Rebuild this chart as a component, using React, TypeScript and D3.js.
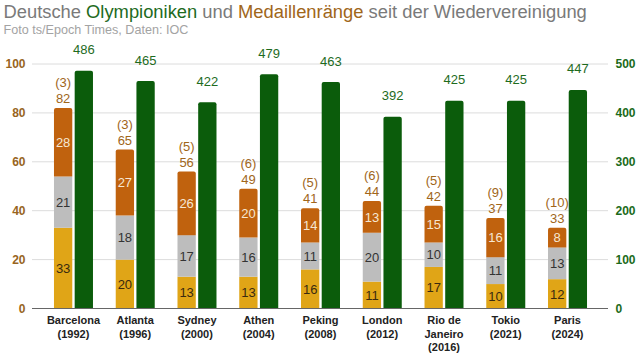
import React from "react";
import * as d3 from "d3";

const games = ["Barcelona (1992)", "Atlanta (1996)", "Sydney (2000)", "Athen (2004)", "Peking (2008)", "London (2012)", "Rio de Janeiro (2016)", "Tokio (2021)", "Paris (2024)"];
const labelLines = [["Barcelona", "(1992)"], ["Atlanta", "(1996)"], ["Sydney", "(2000)"], ["Athen", "(2004)"], ["Peking", "(2008)"], ["London", "(2012)"], ["Rio de", "Janeiro", "(2016)"], ["Tokio", "(2021)"], ["Paris", "(2024)"]];
const gold = [33, 20, 13, 13, 16, 11, 17, 10, 12];
const silver = [21, 18, 17, 16, 11, 20, 10, 11, 13];
const bronze = [28, 27, 26, 20, 14, 13, 15, 16, 8];
const rank = [3, 3, 5, 6, 5, 6, 5, 9, 10];
const athletes = [486, 465, 422, 479, 463, 392, 425, 425, 447];
const leftTicks = [0, 20, 40, 60, 80, 100];
const rightTicks = [0, 100, 200, 300, 400, 500];

const W = 640, H = 355;
const FONT = "'Liberation Sans', Arial, sans-serif";

export default function App() {
  const x = d3.scaleBand<string>().domain(games).range([42.6, 598.4]).paddingInner(0).paddingOuter(0);
  const yL = d3.scaleLinear().domain([0, 100]).range([308.5, 64]);
  const yR = d3.scaleLinear().domain([0, 500]).range([308.5, 64]);
  const bw = 18.3;
  const gap = 2.4;
  const stack = d3.stack<number>().keys(["g", "s", "b"]).value((i, k) => (k === "g" ? gold[i] : k === "s" ? silver[i] : bronze[i]));
  const series = stack(games.map((_, i) => i) as any);
  const colors = ["#E0A517", "#BDBDBD", "#C0620E"];
  const textColors = ["#3a2a10", "#333333", "#F6E7D2"];

  return (
    <svg width={W} height={H} style={{ position: "absolute", left: 0, top: 0, background: "#fff" }} fontFamily={FONT}>
      <text x={3.5} y={18.3} fontSize={18.35} fill="#7a7a7a">
        Deutsche <tspan fill="#1E6B1E">Olympioniken</tspan> und <tspan fill="#A0661A">Medaillenränge</tspan> seit der Wiedervereinigung
      </text>
      <text x={3.5} y={33.5} fontSize={12.6} fill="#a3a3a3">Foto ts/Epoch Times, Daten: IOC</text>

      {leftTicks.map((t) => (
        <g key={t}>
          {t > 0 && <line x1={32} x2={608} y1={yL(t)} y2={yL(t)} stroke="#dcdcdc" strokeWidth={1} />}
          <text x={25.5} y={yL(t) + 4} textAnchor="end" fontSize={12} fontWeight="bold" fill="#98651E">{t}</text>
        </g>
      ))}
      {rightTicks.map((t) => (
        <text key={t} x={615.5} y={yR(t) + 4} fontSize={12} fontWeight="bold" fill="#1B6B1B">{t}</text>
      ))}

      {games.map((g, i) => {
        const cx = (x(g) as number) + x.bandwidth() / 2;
        const sx = cx - gap / 2 - bw;
        const gx = cx + gap / 2;
        const top = yL(gold[i] + silver[i] + bronze[i]);
        const gTop = yR(athletes[i]);
        return (
          <g key={g}>
            {series.map((s, k) => {
              const d = s[i];
              const y0 = yL(d[0]), y1 = yL(d[1]);
              const val = k === 0 ? gold[i] : k === 1 ? silver[i] : bronze[i];
              return (
                <g key={k}>
                  <path
                    d={k === 2
                      ? `M${sx},${y0}V${y1 + 2}Q${sx},${y1} ${sx + 2},${y1}H${sx + bw - 2}Q${sx + bw},${y1} ${sx + bw},${y1 + 2}V${y0}Z`
                      : `M${sx},${y0}V${y1}H${sx + bw}V${y0}Z`}
                    fill={colors[k]}
                  />
                  <text x={sx + bw / 2} y={(y0 + y1) / 2 + 4.7} textAnchor="middle" fontSize={13} fill={textColors[k]}>{val}</text>
                </g>
              );
            })}
            <text x={sx + bw / 2} y={top - 5} textAnchor="middle" fontSize={13} fill="#A0661A">{gold[i] + silver[i] + bronze[i]}</text>
            <text x={sx + bw / 2} y={top - 21} textAnchor="middle" fontSize={13} fill="#A0661A">({rank[i]})</text>
            <path
              d={`M${gx},${yR(0)}V${gTop + 2}Q${gx},${gTop} ${gx + 2},${gTop}H${gx + bw - 2}Q${gx + bw},${gTop} ${gx + bw},${gTop + 2}V${yR(0)}Z`}
              fill="#0B5C0B"
            />
            <text x={gx + bw / 2} y={gTop - 16.5} textAnchor="middle" fontSize={13} fill="#1E6B1E">{athletes[i]}</text>
            {labelLines[i].map((l, j) => (
              <text key={j} x={cx} y={324.3 + j * 13.3} textAnchor="middle" fontSize={11} fontWeight="bold" fill="#222">{l}</text>
            ))}
          </g>
        );
      })}
      <line x1={32} x2={608} y1={yL(0)} y2={yL(0)} stroke="#666" strokeWidth={1} />
    </svg>
  );
}
